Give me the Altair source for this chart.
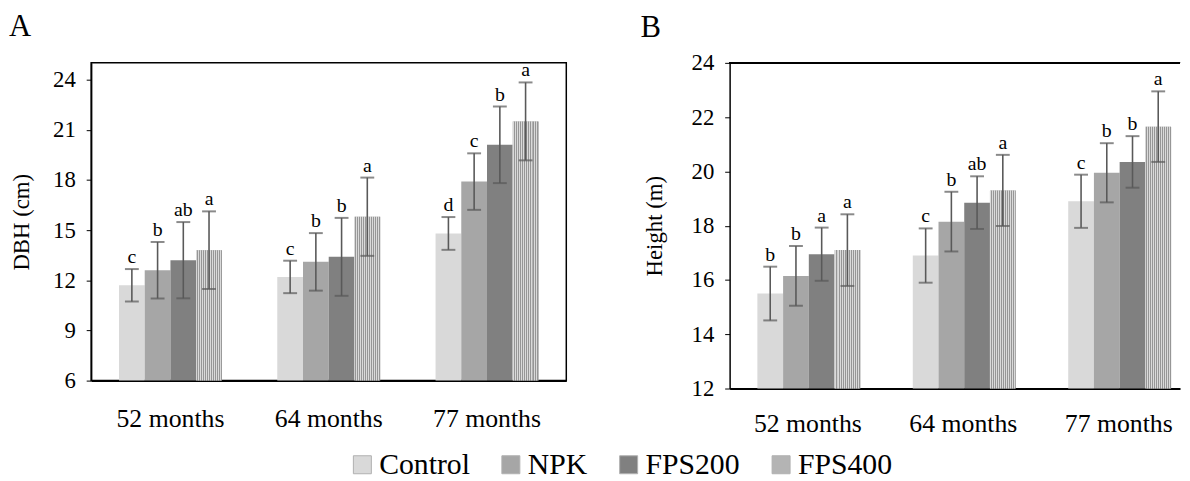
import altair as alt
import pandas as pd

SERIF = "Liberation Serif"

months = ["52 months", "64 months", "77 months"]
treatments = ["Control", "NPK", "FPS200", "FPS400"]
colors = ["#d9d9d9", "#a6a6a6", "#808080", "#b4b4b4"]

# Panel A: DBH (cm)
dbh_mean = [
    [11.7, 12.6, 13.2, 13.8],
    [12.2, 13.1, 13.4, 15.8],
    [14.8, 17.9, 20.1, 21.5],
]
dbh_err = [
    [0.97, 1.69, 2.28, 2.32],
    [0.97, 1.72, 2.33, 2.34],
    [0.98, 1.69, 2.29, 2.33],
]
dbh_letters = [
    ["c", "b", "ab", "a"],
    ["c", "b", "b", "a"],
    ["d", "c", "b", "a"],
]

# Panel B: Height (m)
ht_mean = [
    [15.5, 16.15, 16.95, 17.1],
    [16.9, 18.15, 18.85, 19.3],
    [18.9, 19.95, 20.35, 21.65],
]
ht_err = [
    [0.99, 1.10, 0.98, 1.32],
    [1.00, 1.10, 0.97, 1.31],
    [0.98, 1.09, 0.95, 1.30],
]
ht_letters = [
    ["b", "b", "a", "a"],
    ["c", "b", "ab", "a"],
    ["c", "b", "b", "a"],
]


def make_df(mean, err, letters):
    rows = []
    for i, m in enumerate(months):
        for j, t in enumerate(treatments):
            rows.append({
                "month": m,
                "treatment": t,
                "mean": mean[i][j],
                "low": mean[i][j] - err[i][j],
                "high": mean[i][j] + err[i][j],
                "letter": letters[i][j],
            })
    return pd.DataFrame(rows)


df_a = make_df(dbh_mean, dbh_err, dbh_letters)
df_b = make_df(ht_mean, ht_err, ht_letters)

legend = alt.Legend(
    orient="none", legendX=259, legendY=391, direction="horizontal",
    title=None, labelFont=SERIF, labelFontSize=30, labelColor="black",
    symbolType="square", symbolSize=330, symbolStrokeColor="#b0b0b0",
    symbolStrokeWidth=1, columnPadding=26, labelOffset=2, labelLimit=300,
    gridAlign="none",
)

stripe_stops = []
for k in range(13):
    a = k / 13.0
    b = (k + 0.5) / 13.0
    stripe_stops += [
        alt.GradientStop(offset=a, color="#dadada"),
        alt.GradientStop(offset=b - 0.0001, color="#dadada"),
        alt.GradientStop(offset=b, color="#969696"),
        alt.GradientStop(offset=min(1.0, (k + 1) / 13.0 - 0.0001), color="#969696"),
    ]
stripe = alt.LinearGradient(gradient="linear", stops=stripe_stops, x1=0, x2=1, y1=0, y2=0)


def panel(df, ytitle, ydom, yvals, width, height, xscale, title_text, title_dx,
          title_offset, ytitle_pad, xlab_pad, top_rule):
    base = alt.Chart(df)
    x = alt.X("month:N", sort=months, scale=xscale,
              axis=alt.Axis(title=None, labelAngle=0, ticks=False, domainColor="black",
                            domainWidth=2, labelFont=SERIF, labelFontSize=26,
                            labelColor="black", labelPadding=xlab_pad))
    xo = alt.XOffset("treatment:N", sort=treatments,
                     scale=alt.Scale(domain=treatments, paddingInner=0, paddingOuter=0))
    y = alt.Y("mean:Q", scale=alt.Scale(domain=ydom, nice=False, zero=False),
              axis=alt.Axis(title=ytitle, values=yvals, grid=False, domainColor="black",
                            domainWidth=1.5, tickColor="black", tickSize=5,
                            labelFont=SERIF, labelFontSize=23, labelColor="black",
                            labelPadding=11, titleFont=SERIF, titleFontSize=23,
                            titleFontWeight="normal", titleColor="black",
                            titlePadding=ytitle_pad))
    bars = base.mark_bar(clip=True).encode(
        x=x, xOffset=xo, y=y,
        color=alt.Color("treatment:N", sort=treatments,
                        scale=alt.Scale(domain=treatments, range=colors), legend=legend),
    )
    pattern = base.transform_filter(alt.datum.treatment == "FPS400").mark_bar(
        fill=stripe, clip=True
    ).encode(x=x, xOffset=xo, y=y)
    rules = base.mark_rule(color="#595959", strokeWidth=1.6).encode(
        x=x, xOffset=xo, y="low:Q", y2="high:Q")
    cap_hi = base.mark_tick(color="#595959", thickness=2, size=14).encode(
        x=x, xOffset=xo, y="high:Q")
    cap_lo = base.mark_tick(color="#595959", thickness=2, size=14).encode(
        x=x, xOffset=xo, y="low:Q")
    letters = base.mark_text(font=SERIF, fontSize=20, color="black", baseline="bottom",
                             dy=-2).encode(x=x, xOffset=xo, y="high:Q", text="letter:N")
    layers = [bars, pattern, rules, cap_hi, cap_lo, letters]
    if top_rule:
        layers.append(
            alt.Chart(df).mark_rule(color="black", strokeWidth=1.5).encode(
                x=alt.value(0), x2=alt.value(width), y=alt.value(0)))
    ch = alt.layer(*layers).properties(
        width=width, height=height,
        title=alt.TitleParams(title_text, anchor="start", frame="group", font=SERIF,
                              fontSize=31, fontWeight="normal", color="black",
                              dx=title_dx, offset=title_offset),
    )
    return ch


xs_a = alt.Scale(paddingInner=0.35, paddingOuter=0.176)
xs_b = alt.Scale(paddingInner=0.35, paddingOuter=0.124, align=0.72)

chart_a = panel(df_a, "DBH (cm)", [6, 25], [6, 9, 12, 15, 18, 21, 24], 480, 321,
                xs_a, "A", -83, 18, 19, 25, False).properties(
    view=alt.ViewBackground(stroke="black", strokeWidth=1.5))
chart_b = panel(df_b, "Height (m)", [12, 24], [12, 14, 16, 18, 20, 22, 24], 455, 329,
                xs_b, "B", -90, 8, 25, 22, True).properties(
    view=alt.ViewBackground(stroke="transparent"))

chart = alt.hconcat(chart_a, chart_b, spacing=73).properties(padding=0).configure(
    font=SERIF
).configure_view(
    stroke="transparent"
).configure_legend(
    labelFont=SERIF, labelFontSize=30, labelColor="black"
)

chart.save("out.html", embed_options={"renderer": "svg", "actions": False})
